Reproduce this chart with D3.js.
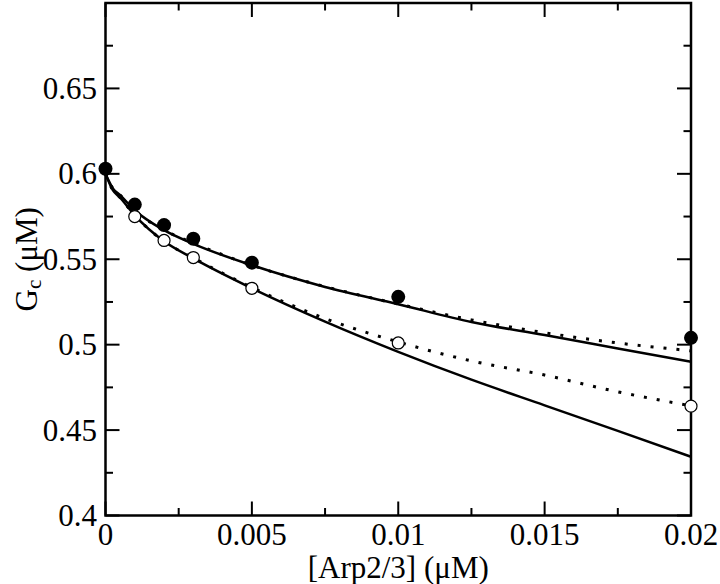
<!DOCTYPE html>
<html>
<script src="https://d3js.org/d3.v7.min.js"></script>
<style>
  body { margin: 0; background: #fff; }
  svg text { font-family: "Liberation Serif", "Times New Roman", serif; fill: #000; }
</style>
<body>
<svg width=720 height=584></svg>
<script>
    // measured points
    const filledX = [0, 0.001, 0.002, 0.003, 0.005, 0.01, 0.02];
    const filledY = [0.603, 0.582, 0.570, 0.562, 0.548, 0.528, 0.504];
    const openX = [0.001, 0.002, 0.003, 0.005, 0.01, 0.02];
    const openY = [0.575, 0.561, 0.551, 0.533, 0.501, 0.464];

    // model curves
    const curveX = [0, 0.00025, 0.0005, 0.001, 0.002, 0.003, 0.005, 0.0075, 0.01, 0.0125, 0.015, 0.0175, 0.02];
    const solidUpper  = [0.600, 0.5915, 0.5875, 0.5787, 0.567, 0.559, 0.5465, 0.5338, 0.5237, 0.5133, 0.5056, 0.4978, 0.490];
    const solidLower  = [0.600, 0.5905, 0.586, 0.5757, 0.5605, 0.5505, 0.533, 0.5135, 0.4958, 0.4795, 0.4645, 0.4495, 0.4344];
    const dottedUpper = [0.600, 0.5915, 0.5875, 0.5785, 0.567, 0.5595, 0.5465, 0.534, 0.5238, 0.5145, 0.507, 0.501, 0.4964];
    const dottedLower = [0.600, 0.5905, 0.586, 0.5757, 0.5605, 0.5508, 0.5335, 0.5153, 0.5016, 0.4905, 0.4822, 0.4724, 0.4642];

    const xTicks = [0, 0.005, 0.01, 0.015, 0.02];
    const xTickLabels = ["0", "0.005", "0.01", "0.015", "0.02"];
    const yTicks = [0.4, 0.45, 0.5, 0.55, 0.6, 0.65, 0.7];
    const yTickLabels = ["0.4", "0.45", "0.5", "0.55", "0.6", "0.65", ""];

    const svg = d3.select("svg");
    const x0 = 105.5, x1 = 691, y0 = 3, y1 = 515.5;

    const x = d3.scaleLinear().domain([0, 0.02]).range([x0, x1]);
    const y = d3.scaleLinear().domain([0.4, 0.7]).range([y1, y0]);

    const xMinor = d3.range(0, 0.0201, 0.0025);
    const yMinor = d3.range(0.4, 0.701, 0.025);

    // curves
    const line = d3.line().x(d => x(d[0])).y(d => y(d[1])).curve(d3.curveMonotoneX);
    const curves = [
        {v: solidUpper, dash: null},
        {v: solidLower, dash: null},
        {v: dottedUpper, dash: "3,10"},
        {v: dottedLower, dash: "3,10"}
    ];
    curves.forEach(c => {
        svg.append("path")
            .attr("d", line(curveX.map((xv, i) => [xv, c.v[i]])))
            .attr("fill", "none")
            .attr("stroke", "#000")
            .attr("stroke-width", c.dash ? 3 : 2.5)
            .attr("stroke-dasharray", c.dash);
    });

    // frame
    svg.append("rect")
        .attr("x", x0).attr("y", y0)
        .attr("width", x1 - x0).attr("height", y1 - y0)
        .attr("fill", "none").attr("stroke", "#000").attr("stroke-width", 2.5);

    const ticks = svg.append("g").attr("stroke", "#000").attr("stroke-width", 2);
    xMinor.forEach((v, i) => {
        const len = i % 2 === 0 ? 14 : 7.5;
        const px = x(v);
        ticks.append("line").attr("x1", px).attr("x2", px).attr("y1", y1).attr("y2", y1 - len);
        ticks.append("line").attr("x1", px).attr("x2", px).attr("y1", y0).attr("y2", y0 + len);
    });
    yMinor.forEach((v, i) => {
        const len = i % 2 === 0 ? 14 : 7.5;
        const py = y(v);
        ticks.append("line").attr("x1", x0).attr("x2", x0 + len).attr("y1", py).attr("y2", py);
        ticks.append("line").attr("x1", x1).attr("x2", x1 - len).attr("y1", py).attr("y2", py);
    });

    // tick labels
    svg.selectAll(".xl").data(xTicks).enter().append("text")
        .attr("x", d => x(d)).attr("y", 545)
        .attr("text-anchor", "middle").attr("font-size", 31)
        .text((d, i) => xTickLabels[i]);
    svg.selectAll(".yl").data(yTicks).enter().append("text")
        .attr("x", 97).attr("y", d => y(d) + 10.5)
        .attr("text-anchor", "end").attr("font-size", 31)
        .text((d, i) => yTickLabels[i]);

    // axis titles
    svg.append("text").attr("x", (x0 + x1) / 2).attr("y", 578)
        .attr("text-anchor", "middle").attr("font-size", 31)
        .text("[Arp2/3] (μM)");
    const yt = svg.append("text")
        .attr("transform", "translate(37," + ((y0 + y1) / 2) + ") rotate(-90)")
        .attr("text-anchor", "middle").attr("font-size", 31);
    yt.append("tspan").text("G");
    yt.append("tspan").attr("font-size", 21).attr("dy", 4).text("c");
    yt.append("tspan").attr("dy", -4).text(" (μM)");

    // markers
    svg.selectAll(".f").data(filledX).enter().append("circle")
        .attr("cx", d => x(d)).attr("cy", (d, i) => y(filledY[i]))
        .attr("r", 7).attr("fill", "#000");
    svg.selectAll(".o").data(openX).enter().append("circle")
        .attr("cx", d => x(d)).attr("cy", (d, i) => y(openY[i]))
        .attr("r", 6).attr("fill", "#fff").attr("stroke", "#000").attr("stroke-width", 1.2);
</script>
</body>
</html>
